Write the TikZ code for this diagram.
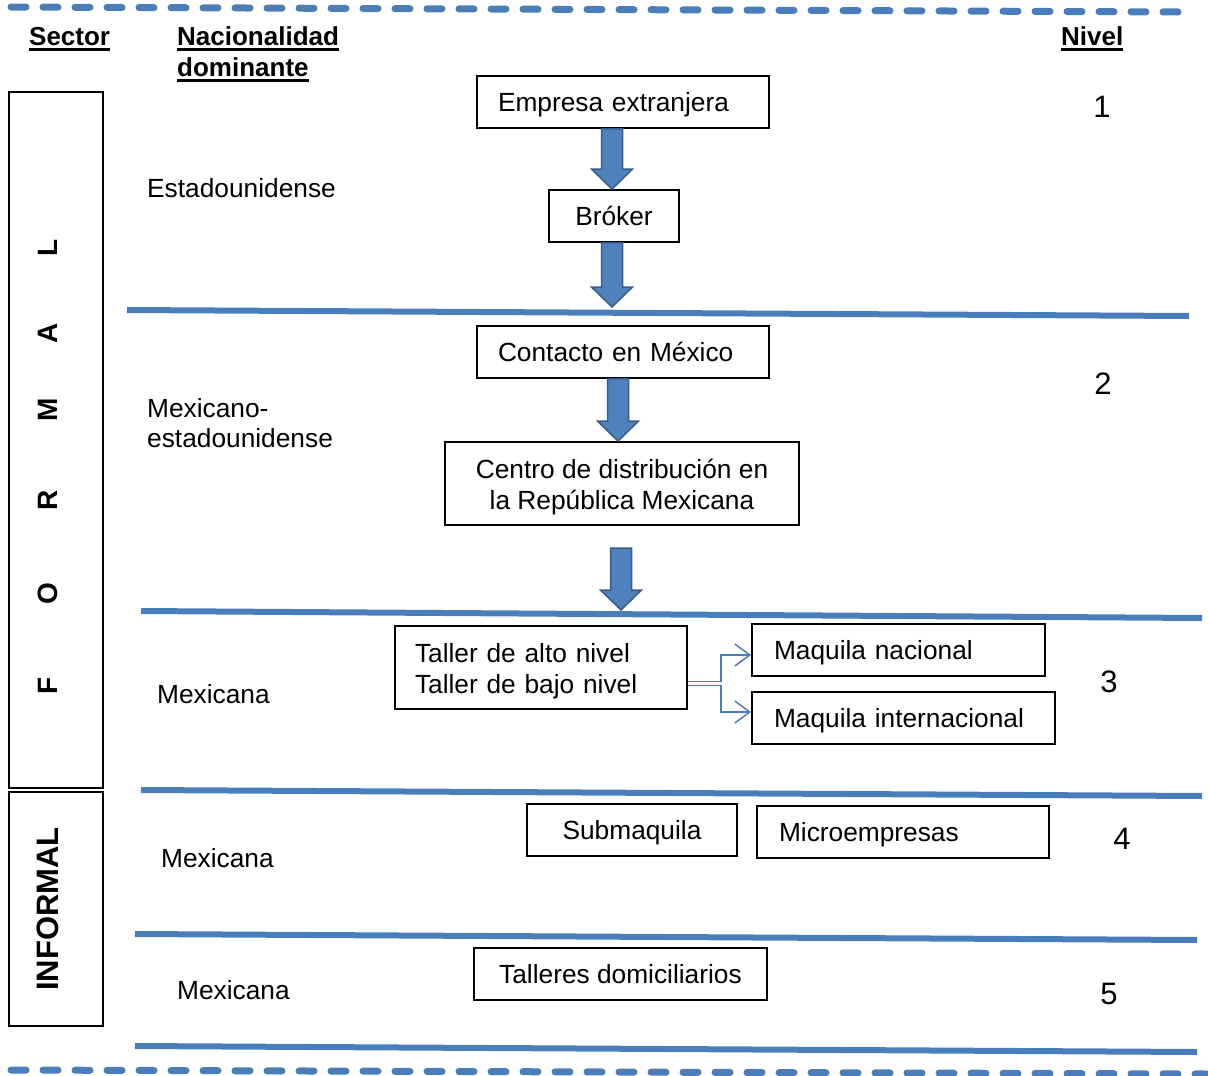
\documentclass[tikz,border=0pt]{standalone}
\usepackage{fontspec}
\setmainfont{Liberation Sans}
\usetikzlibrary{arrows.meta,calc}
\definecolor{lineblue}{HTML}{4A7EBB}
\definecolor{arrfill}{HTML}{4F81BD}
\definecolor{arrdraw}{HTML}{385D8A}
\newcommand\ulx[1]{\vtop{\hbox{#1}\kern3pt\hrule height 2.5pt}}
\newcommand\blockarr[2]{%
  \filldraw[barr] let \p1=(#1), \p2=(#2) in
  (\x1-10.5pt,\y1) -- (\x1+10.5pt,\y1) -- (\x1+10.5pt,\y2+20pt) -- (\x1+20.5pt,\y2+20pt)
  -- (\x1,\y2) -- (\x1-20.5pt,\y2+20pt) -- (\x1-10.5pt,\y2+20pt) -- cycle;}
\tikzset{
  txt/.style={font=\fontsize{26.3}{31}\selectfont, inner sep=0pt},
  one/.style={text height=18.8pt, text depth=0pt},
  two/.style={text height=52pt, text depth=0.4pt},
  hdr/.style={txt, font=\fontsize{26}{30}\selectfont\bfseries, anchor=base west},
  box/.style={txt, draw=black, line width=1.8pt},
  lbl/.style={txt, one, anchor=west},
  num/.style={inner sep=0pt, font=\fontsize{31}{33}\selectfont, text height=22.3pt, text depth=0pt},
  ltr/.style={inner sep=0pt, text height=18.6pt, text depth=0pt, rotate=90,
     font=\fontsize{28}{30}\selectfont\bfseries},
  secbox/.style={draw=black, line width=2pt, inner sep=0pt},
  band/.style={draw=lineblue, line width=6pt},
  dashline/.style={draw=lineblue, line width=7pt, line cap=round, dash pattern=on 15pt off 17pt},
  barr/.style={fill=arrfill, draw=arrdraw, line width=1.5pt, line join=miter},
  conn/.style={draw=lineblue, line width=1.5pt, -{Straight Barb[length=15pt,width=22pt,line width=1.5pt]}},
}
\begin{document}
\begin{tikzpicture}[x=1pt,y=-1pt]
\useasboundingbox (0,0) rectangle (1208,1076);
% dashed frame lines
\draw[dashline] (11,7) -- (1183,12);
\draw[dashline] (11,1070) -- (1208,1074);
% level separators
\draw[band] (127,310) -- (1189,316);
\draw[band] (141,611) -- (1202,618);
\draw[band] (141,790) -- (1202,796);
\draw[band] (135,934) -- (1197,940);
\draw[band] (135,1046) -- (1197,1052);
% headers
\node[hdr] (hsec) at (29,45) {\ulx{Sector}};
\node[hdr] (hnac1) at (177,45) {\ulx{Nacionalidad}};
\node[hdr] (hnac2) at (177,76) {\ulx{dominante}};
\node[hdr] (hniv) at (1061,45) {\ulx{Nivel}};
% sector boxes
\node[secbox, minimum width=94pt, minimum height=696pt] (formal) at (56,440) {};
\node[secbox, minimum width=94pt, minimum height=234pt] (informal) at (56,909) {};
\node[ltr] (lF) at (48,686) {F};
\node[ltr] (lO) at (48,594) {O};
\node[ltr] (lR) at (48,500) {R};
\node[ltr] (lM) at (48,410) {M};
\node[ltr] (lA) at (48,333) {A};
\node[ltr] (lL) at (48,248) {L};
\node[ltr, font=\fontsize{31}{33}\selectfont\bfseries, text height=22.2pt] (linf) at (47,909) {INFORMAL};
% nationality labels
\node[lbl] (n1) at (147,188) {Estadounidense};
\node[txt, font=\fontsize{26.3}{30}\selectfont, anchor=west, align=left] (n2) at (147,423) {Mexicano-\\estadounidense};
\node[lbl] (n3) at (157,694) {Mexicana};
\node[lbl] (n4) at (161,858) {Mexicana};
\node[lbl] (n5) at (177,990) {Mexicana};
% level numbers
\node[num] (v1) at (1102,106) {1};
\node[num] (v2) at (1103,383) {2};
\node[num] (v3) at (1109,681) {3};
\node[num] (v4) at (1122,838) {4};
\node[num] (v5) at (1109,993) {5};
% boxes
\node[box, one, minimum height=52pt, text width=250pt, inner xsep=21pt, align=left] (emp) at (623,102) {Empresa extranjera};
\node[box, one, minimum width=130pt, minimum height=52pt] (brok) at (614,216) {Bróker};
\node[box, one, minimum height=52pt, text width=250pt, inner xsep=21pt, align=left] (cont) at (623,352) {Contacto en México};
\node[box, two, minimum width=354pt, minimum height=83pt, align=center] (cent) at (622,483.5) {Centro de distribución en\\la República Mexicana};
\node[box, minimum height=83pt, text width=252pt, inner xsep=20pt, align=left, text height=20.6pt, text depth=31pt] (tal) at (541,667.5) {Taller de alto nivel\\Taller de bajo nivel};
\node[box, one, minimum height=52pt, text width=249pt, inner xsep=22pt, align=left] (mn) at (898.5,650) {Maquila nacional};
\node[box, one, minimum height=52pt, text width=259pt, inner xsep=22pt, align=left] (mi) at (903.5,718) {Maquila internacional};
\node[box, one, minimum width=210pt, minimum height=52pt] (sub) at (632,830) {Submaquila};
\node[box, one, minimum height=52pt, text width=248pt, inner xsep=22pt, align=left] (mic) at (903,832) {Microempresas};
\node[box, one, minimum width=293pt, minimum height=52pt] (tald) at (620.5,974) {Talleres domiciliarios};
% block arrows
\coordinate (a2e) at (612,307);
\coordinate (a4e) at (621,610);
\blockarr{emp.south -| 612,0}{brok.north -| 612,0}
\blockarr{brok.south -| 612,0}{a2e}
\blockarr{cont.south -| 618,0}{cent.north -| 618,0}
\blockarr{621,548}{a4e}
% connectors from Taller
\draw[conn] ($(tal.east)+(0,14)$) -- ++(33,0) |- ($(mn.west)+(0,5)$);
\draw[conn] ($(tal.east)+(0,18)$) -- ++(33,0) |- ($(mi.west)+(0,-6)$);
\end{tikzpicture}
\end{document}
